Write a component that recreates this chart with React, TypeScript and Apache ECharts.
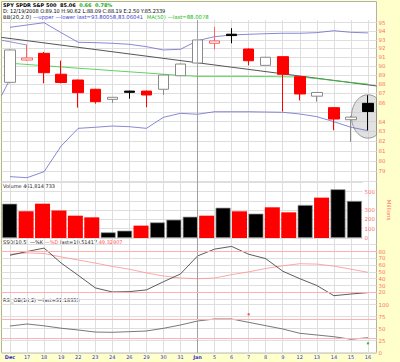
import React, { useEffect, useRef } from 'react';
import * as echarts from 'echarts';

const categories = ['Dec', '17', '18', '19', '22', '23', '24', '26', '29', '30', '31', 'Jan', '5', '6', '7', '8', '9', '12', '13', '14', '15', '16'];
const openP = [88.21, 90.69, 91.45, 89.1, 88.46, 87.45, 86.36, 87.25, 87.25, 87.45, 88.93, 90.35, 92.6, 93.65, 91.94, 90.09, 91.07, 88.83, 86.7, 85.47, 84.2, 85.93];
const closeP = [91.83, 90.92, 89.27, 88.19, 87.08, 86.11, 86.58, 87.12, 86.83, 89.01, 90.24, 92.98, 92.87, 93.49, 90.61, 91.0, 89.09, 86.94, 87.1, 84.27, 84.47, 85.06];
const lowP = [88.1, 90.6, 88.1, 88.09, 85.47, 85.9, 85.98, 86.43, 85.52, 86.83, 88.9, 90.3, 91.9, 92.6, 90.09, 90.05, 85.07, 86.25, 86.11, 83.1, 81.9, 83.1];
const highP = [91.9, 92.4, 91.6, 90.62, 88.5, 87.5, 86.6, 87.3, 87.3, 89.05, 90.3, 93.3, 94.5, 94.35, 92.0, 91.05, 91.1, 88.9, 87.15, 85.5, 84.6, 86.8];
const bbUpper = [94.46, 94.73, 95.0, 93.83, 92.71, 92.67, 92.6, 92.48, 92.21, 91.83, 91.91, 92.9, 93.36, 93.56, 93.64, 93.71, 93.76, 93.76, 93.83, 94.06, 93.87, 93.8];
const bbLower = [78.44, 78.34, 78.93, 81.49, 83.3, 83.41, 83.54, 83.47, 83.3, 84.45, 84.87, 84.77, 85.04, 85.04, 85.04, 85.01, 84.98, 84.8, 84.52, 83.99, 83.41, 83.06];
const ma50 = [90.32, 90.19, 90.05, 89.91, 89.77, 89.64, 89.5, 89.37, 89.24, 89.1, 88.97, 88.86, 88.86, 88.86, 88.86, 88.84, 88.82, 88.8, 88.62, 88.41, 88.2, 88.01];
const volumeM = [369, 287, 369, 297, 240, 222, 61, 79, 133, 168, 197, 229, 240, 326, 287, 262, 330, 276, 355, 434, 524, 398.5];
const stochK = [74.5, 80, 85, 63, 45, 26.5, 20.5, 21, 23.5, 35.5, 47, 73.4, 83.5, 87.5, 76, 69.5, 51, 40, 30, 15, 17.5, 19.51];
const stochD = [76, 78, 77, 72, 67.5, 63, 58, 54, 48.5, 44, 41, 40, 41, 46, 50, 55, 59, 62, 61.5, 58.5, 54, 49.33];
const rsi = [55.6, 59.8, 56, 51, 47.3, 43, 42.5, 43.8, 45.2, 50.8, 57.7, 66, 70.2, 70.2, 63.3, 56.3, 49.4, 40.4, 36.9, 33.3, 28, 31.18];
const priceGridTicks = [78, 79, 80, 81, 82, 83, 84, 85, 86, 87, 88, 89, 90, 91, 92, 93, 94, 95];
const priceLabelTicks = [79, 80, 81, 82, 83, 84, 86, 87, 88, 89, 90, 91, 92, 93, 94, 95];
const volLabelTicks = [0, 100, 200, 300, 500];
// annotation lines in data coordinates [x index, price]
const trendLine = [[-0.5, 93.28], [21.5, 87.81]];
const blueLineA = [[-0.5, 92.95], [1, 92.4]];
const blueLineB = [[-0.5, 86.77], [-0.1, 88.19]];
const ellipseCenter = [21, 84.54];
const rsiSignals = [[14, 80, '#ff3333'], [21, 19.5, '#22aa22']];

const FONT = 'DejaVu Sans';
const NARROW = "'Liberation Sans Narrow', 'DejaVu Sans Condensed', 'DejaVu Sans'";
const AX = '#ff7070';
const GRIDC = '#dedede';
const ln = Math.log;

export default function App() {
  const ref = useRef<HTMLDivElement>(null);
  useEffect(() => {
    const chart = echarts.init(ref.current!, null, { renderer: 'svg' });
    const L = 1.5, W = 375;
    const band = W / categories.length;
    const isDown = (i: number) => i > 0 && closeP[i] < closeP[i - 1];
    const candle = (i: number) => [ln(openP[i]), ln(closeP[i]), ln(lowP[i]), ln(highP[i])];
    const redCandles = categories.map((_, i) => (isDown(i) ? candle(i) : '-'));
    const blackCandles = categories.map((_, i) => (isDown(i) ? '-' : candle(i)));
    const volData = categories.map((_, i) => {
      const down = isDown(i);
      return { value: volumeM[i], itemStyle: { color: down ? '#ff0000' : '#000000', borderColor: down ? '#ff0000' : '#9a9a9a', borderWidth: down ? 0 : 0.7 } };
    });
    const yLabel = { color: AX, fontSize: 5.5, fontFamily: FONT, margin: 2 };
    const hidCat = (g: number) => ({ gridIndex: g, type: 'category', data: categories, boundaryGap: true, show: false });
    const txt = (x: number, y: number, text: string, rich: any) => ({
      type: 'text', x, y, silent: true,
      style: { text, fontSize: 5.5, fontFamily: FONT, fill: '#222', rich },
    });
    const option: any = {
      animation: false,
      backgroundColor: '#ffffcc',
      graphic: [
        { type: 'rect', z: -100, shape: { x: L, y: 1.5, width: W, height: 351.5 }, style: { fill: '#ffffff', stroke: '#b0b0b0', lineWidth: 1 } },
        txt(3, 1.5, '{b|SPY SPDR S&P 500  85.06}  {g|0.66  0.78%}', {
          b: { fontWeight: 'bold', fontSize: 5, fontFamily: FONT, fill: '#000' },
          g: { fontWeight: 'bold', fontSize: 5, fontFamily: FONT, fill: '#22aa22' },
        }),
        txt(3, 8, '{k|D: 12/19/2008 O:89.10 H:90.62 L:88.09 C:88.19 E:2.50 Y:85.2339}', {
          k: { fontSize: 5.5, fontFamily: NARROW, fill: '#000' },
        }),
        txt(3, 14, '{k|BB(20,2.0)} {b|\u2014upper \u2014lower last=93.80058,83.06041}  {g|MA(50) \u2014last=88.0078}', {
          k: { fontSize: 5.3, fontFamily: FONT, fill: '#222' },
          b: { fontSize: 5.3, fontFamily: FONT, fill: '#4444cc' },
          g: { fontSize: 5.3, fontFamily: FONT, fill: '#22bb22' },
        }),
        txt(3, 183, '{k|Volume 461,814,733}', { k: { fontSize: 5, fontFamily: FONT, fill: '#222' } }),
        txt(3, 239, '{k|SSO(10,5) \u2014%K} {r|\u2014%D} {k|last=19.51417,}{r|49.32907}', {
          k: { fontSize: 5, fontFamily: FONT, fill: '#222' },
          r: { fontSize: 5, fontFamily: FONT, fill: '#ff5555' },
        }),
        txt(3, 297, '{k|RSI_OB(14,2) \u2014last=31.18353}', { k: { fontSize: 5, fontFamily: FONT, fill: '#222' } }),
      ],
      grid: [
        { left: L, width: W, top: 20, height: 162 },
        { left: L, width: W, top: 182.2, height: 55.8 },
        { left: L, width: W, top: 244.7, height: 54.4 },
        { left: L, width: W, top: 304.7, height: 48 },
        { left: L + band / 2, width: W - band, top: 20, height: 333 },
      ],
      xAxis: [
        hidCat(0),
        { gridIndex: 0, type: 'value', min: -0.5, max: 21.5, show: false },
        hidCat(1),
        hidCat(2),
        {
          gridIndex: 3, type: 'category', data: categories, boundaryGap: true,
          axisLine: { show: false }, axisTick: { show: false }, splitLine: { show: false },
          axisLabel: {
            interval: 0, color: '#3333cc', fontSize: 5, fontFamily: FONT, margin: 2,
            formatter: (v: string) => (v === 'Dec' || v === 'Jan' ? `{b|${v}}` : v),
            rich: { b: { fontWeight: 'bold', color: '#3333cc', fontSize: 5, fontFamily: FONT } },
          },
        },
        {
          gridIndex: 4, type: 'value', min: 0, max: 21, interval: 1,
          axisLine: { show: false }, axisTick: { show: false }, axisLabel: { show: false },
          splitLine: { show: true, lineStyle: { color: GRIDC, width: 1 } },
        },
      ],
      yAxis: [
        {
          gridIndex: 0, type: 'value', position: 'right', min: ln(77.92), max: ln(95.32),
          axisLine: { show: false },
          axisTick: { show: false, customValues: priceGridTicks.map(ln) },
          axisLabel: { ...yLabel, customValues: priceLabelTicks.map(ln), formatter: (v: number) => String(Math.round(Math.exp(v))) },
          splitLine: { show: true, lineStyle: { color: GRIDC, width: 1 } },
        },
        {
          gridIndex: 1, type: 'value', position: 'right', min: 0, max: 600, interval: 100,
          axisLine: { show: false }, axisTick: { show: false },
          axisLabel: { ...yLabel, customValues: volLabelTicks },
          splitLine: { show: true, lineStyle: { color: GRIDC, width: 1 } },
          name: 'Millions', nameLocation: 'middle', nameRotate: -90, nameGap: 16,
          nameTextStyle: { color: AX, fontSize: 5.5, fontFamily: FONT },
        },
        {
          gridIndex: 2, type: 'value', position: 'right', min: 10, max: 90, interval: 10,
          axisLine: { show: false }, axisTick: { show: false },
          axisLabel: { ...yLabel, showMinLabel: false, showMaxLabel: false },
          splitLine: { show: true, lineStyle: { color: GRIDC, width: 1 } },
        },
        {
          gridIndex: 3, type: 'value', position: 'right', min: 0, max: 100, interval: 25,
          axisLine: { show: false }, axisTick: { show: false },
          axisLabel: { ...yLabel },
          splitLine: { show: true, lineStyle: { color: GRIDC, width: 1 } },
        },
        { gridIndex: 4, type: 'value', min: 0, max: 1, show: false },
      ],
      series: [
        {
          type: 'scatter', xAxisIndex: 5, yAxisIndex: 4, data: [[11, -1]], symbolSize: 0, silent: true,
          markLine: { silent: true, symbol: 'none', label: { show: false }, lineStyle: { color: '#a0a0a0', type: 'solid', width: 1 }, data: [{ xAxis: 11 }] },
        },
        {
          type: 'custom', xAxisIndex: 0, yAxisIndex: 0, z: 1, silent: true,
          data: [[ellipseCenter[0], ln(ellipseCenter[1])]],
          renderItem: (params: any, api: any) => {
            const c = api.coord([api.value(0), api.value(1)]);
            const rx = 16.5, ry = 21.7;
            const right = params.coordSys.x + params.coordSys.width;
            const pts: number[][] = [];
            for (let k = 0; k < 90; k++) {
              const t = (k / 90) * Math.PI * 2;
              pts.push([Math.min(c[0] + rx * Math.cos(t), right), c[1] + ry * Math.sin(t)]);
            }
            return { type: 'polygon', shape: { points: pts }, style: { fill: 'rgba(200,200,200,0.55)', stroke: '#808080', lineWidth: 0.8 } };
          },
        },
        {
          type: 'line', xAxisIndex: 1, yAxisIndex: 0, data: trendLine.map(p => [p[0], ln(p[1])]),
          symbol: 'none', lineStyle: { color: '#555555', width: 1 }, z: 3, silent: true,
        },
        {
          type: 'line', xAxisIndex: 1, yAxisIndex: 0, data: blueLineA.map(p => [p[0], ln(p[1])]),
          symbol: 'none', lineStyle: { color: '#7777cc', width: 0.8 }, silent: true,
        },
        {
          type: 'line', xAxisIndex: 1, yAxisIndex: 0, data: blueLineB.map(p => [p[0], ln(p[1])]),
          symbol: 'none', lineStyle: { color: '#6666cc', width: 0.8 }, silent: true,
        },
        {
          type: 'line', xAxisIndex: 0, yAxisIndex: 0, data: bbUpper.map(ln),
          symbol: 'none', lineStyle: { color: '#6a6acc', width: 0.8 }, silent: true,
        },
        {
          type: 'line', xAxisIndex: 0, yAxisIndex: 0, data: bbLower.map(ln),
          symbol: 'none', lineStyle: { color: '#6a6acc', width: 0.8 }, silent: true,
        },
        {
          type: 'line', xAxisIndex: 0, yAxisIndex: 0, data: ma50.map(ln),
          symbol: 'none', lineStyle: { color: '#33cc33', width: 0.8 }, silent: true,
        },
        {
          type: 'candlestick', xAxisIndex: 0, yAxisIndex: 0, data: redCandles, barWidth: 11, z: 4,
          itemStyle: { color: '#ffffff', borderColor: '#ff6060', color0: '#ff0000', borderColor0: '#ff0000', borderWidth: 1 },
        },
        {
          type: 'candlestick', xAxisIndex: 0, yAxisIndex: 0, data: blackCandles, barWidth: 11, z: 4,
          itemStyle: { color: '#ffffff', borderColor: '#8a8a8a', color0: '#000000', borderColor0: '#000000', borderWidth: 1 },
          markLine: {
            silent: true, symbol: 'none', lineStyle: { opacity: 0 },
            label: {
              show: true, position: 'end', distance: 1, formatter: '85.06', color: '#fff', backgroundColor: '#000',
              fontSize: 5.5, fontWeight: 'bold', fontFamily: FONT, padding: [1.5, 5, 1, 2],
            },
            data: [{ yAxis: ln(closeP[closeP.length - 1]) }],
          },
        },
        {
          type: 'bar', xAxisIndex: 2, yAxisIndex: 1, data: volData, barWidth: 15,
          markLine: {
            silent: true, symbol: 'none', lineStyle: { opacity: 0 },
            label: {
              show: true, position: 'end', distance: 1, formatter: '398.5 M', color: '#fff', backgroundColor: '#000',
              fontSize: 5.5, fontWeight: 'bold', fontFamily: FONT, padding: [1.5, 2, 1, 2],
            },
            data: [{ yAxis: volumeM[volumeM.length - 1] }],
          },
        },
        {
          type: 'line', xAxisIndex: 3, yAxisIndex: 2, data: stochD,
          symbol: 'none', lineStyle: { color: '#ff9090', width: 0.8 }, silent: true,
          markLine: {
            silent: true, symbol: 'none', label: { show: false },
            lineStyle: { color: '#ffb0b0', type: 'solid', width: 1 },
            data: [{ yAxis: 80 }, { yAxis: 20 }],
          },
        },
        {
          type: 'line', xAxisIndex: 3, yAxisIndex: 2, data: stochK,
          symbol: 'none', lineStyle: { color: '#333333', width: 0.8 }, silent: true,
        },
        {
          type: 'line', xAxisIndex: 4, yAxisIndex: 3, data: rsi,
          symbol: 'none', lineStyle: { color: '#555555', width: 0.8 }, silent: true,
          markLine: {
            silent: true, symbol: 'none', label: { show: false },
            lineStyle: { color: '#ffb0b0', type: 'solid', width: 1 },
            data: [{ yAxis: 70 }, { yAxis: 30 }],
          },
        },
        {
          type: 'scatter', xAxisIndex: 4, yAxisIndex: 3, symbolSize: 2.5, silent: true,
          data: rsiSignals.map(s => ({ value: [s[0], s[1]], itemStyle: { color: s[2] } })),
        },
      ],
    };
    chart.setOption(option);
    return () => chart.dispose();
  }, []);
  return (
    <div style={{ position: 'absolute', left: 0, top: 0, width: 400, height: 362, background: '#ffffcc' }}>
      <div ref={ref} style={{ width: 400, height: 362 }} />
    </div>
  );
}
